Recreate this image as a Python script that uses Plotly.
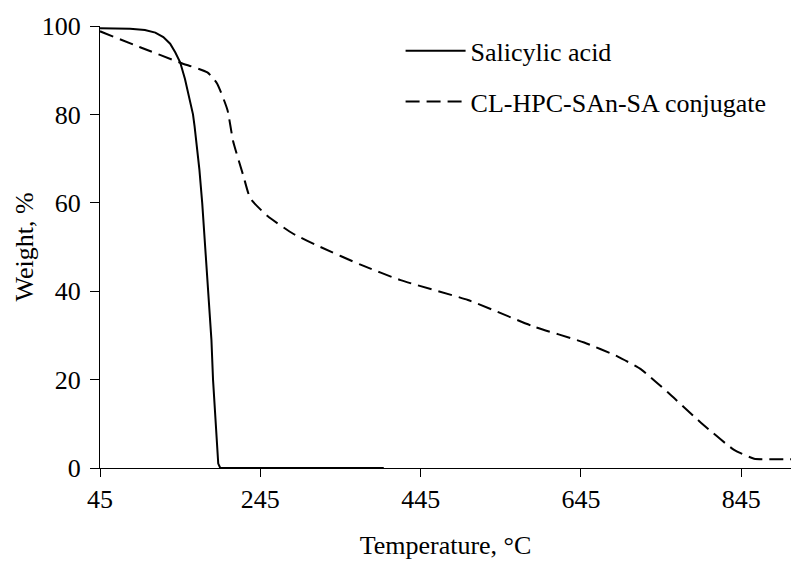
import plotly.graph_objects as go

# Salicylic acid TGA curve
sa_temp = [45, 82.5, 101, 114, 124, 132.5, 139, 145, 151, 155, 157.5, 159.5, 161, 163, 165, 167,
           169, 172.5, 176, 180, 184, 186, 190, 192.5, 195, 399]
sa_weight = [99.5, 99.4, 99.1, 98.5, 97.5, 96, 94, 91.8, 88, 85, 83.2, 81.6, 80, 77.3, 74, 71,
             67.5, 60, 50, 40, 29, 20, 8, 1, 0, 0]

# CL-HPC-SAn-SA conjugate TGA curve
conj_temp = [45, 95, 145, 179, 191, 204, 211, 224, 232.5, 254, 286, 320, 370, 420, 504, 586,
             649, 691, 720, 754, 795, 836, 861, 880, 908]
conj_weight = [98.8, 95.2, 91.7, 89.5, 87, 81, 74, 66, 61, 57, 53, 50, 46, 42.5, 38, 32,
               28.4, 25.2, 22.3, 17, 10.2, 4.1, 2.1, 2.0, 2.0]

x_ticks = [45, 245, 445, 645, 845]
y_ticks = [0, 20, 40, 60, 80, 100]

FONT = "Liberation Serif"
FS = 26

fig = go.Figure()
fig.add_trace(go.Scatter(x=sa_temp, y=sa_weight, mode="lines", name="Salicylic acid",
                         line=dict(color="black", width=2),
                         legendgroup="a"))
fig.add_trace(go.Scatter(x=conj_temp, y=conj_weight, mode="lines", name="CL-HPC-SAn-SA conjugate",
                         line=dict(color="black", width=2, dash="14px,7px", shape="spline", smoothing=0.5),
                         legendgroup="b"))

fig.update_layout(
    width=791, height=563,
    margin=dict(l=100, r=0, t=26, b=95),
    paper_bgcolor="white", plot_bgcolor="white",
    font=dict(family=FONT, size=FS, color="black"),
    showlegend=True,
    legend=dict(x=0.435, y=0.997, xanchor="left", yanchor="top",
                traceorder="grouped", tracegroupgap=14,
                font=dict(family=FONT, size=FS, color="black"),
                bgcolor="rgba(0,0,0,0)", itemwidth=60),
    xaxis=dict(range=[45, 907], tickvals=x_ticks, ticktext=[str(v) for v in x_ticks],
               showgrid=False, zeroline=False, showline=True, linecolor="black", linewidth=1,
               ticks="outside", ticklen=8, tickcolor="black", tickwidth=1,
               title=dict(text="Temperature, °C", standoff=22, font=dict(family=FONT, size=FS))),
    yaxis=dict(range=[0, 100], tickvals=y_ticks,
               showgrid=False, zeroline=False, showline=True, linecolor="black", linewidth=1,
               ticks="outside", ticklen=9, tickcolor="black", tickwidth=1, ticklabelstandoff=4,
               title=dict(text="Weight, %", standoff=0, font=dict(family=FONT, size=FS))),
)

fig.write_html("out.html")
